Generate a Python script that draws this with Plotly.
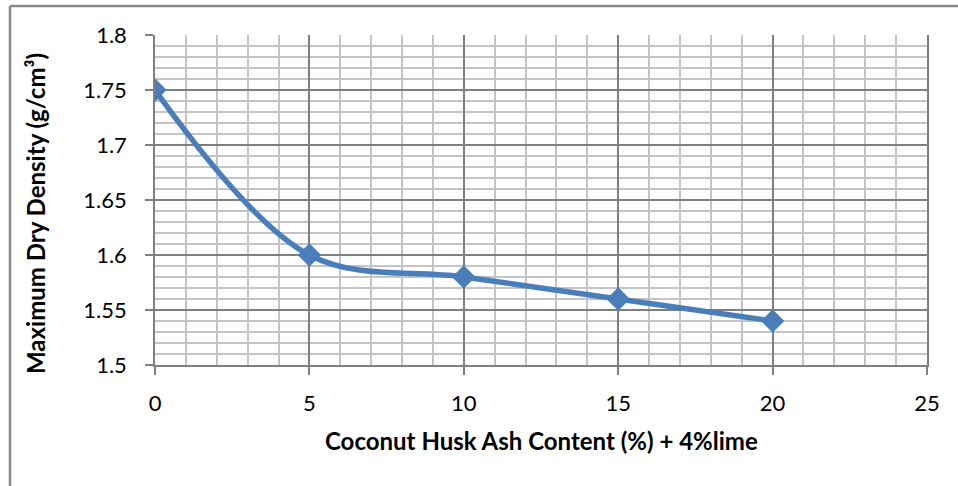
import plotly.graph_objects as go

ash_content = [0, 5, 10, 15, 20]
max_dry_density = [1.75, 1.60, 1.58, 1.56, 1.54]
x_title = "Coconut Husk Ash Content (%) + 4%lime"
y_title = "Maximum Dry Density (g/cm³)"

FONT = "Lato"
BLUE = "#4A7EBB"
MAJOR = "#7F7F7F"
MINOR = "#C4C4C4"

L, R, T, B = 155, 31, 35, 121
PW, PH = 958 - L - R, 486 - T - B


def px(xp):
    return (xp - L) / PW


def py(yp):
    return (486 - B - yp) / PH


fig = go.Figure()
fig.add_trace(go.Scatter(
    x=ash_content, y=max_dry_density,
    mode="lines+markers",
    line=dict(color=BLUE, width=5.5, shape="spline", smoothing=1.0),
    marker=dict(symbol="diamond", size=18, color=BLUE),
    showlegend=False,
))

fig.update_layout(
    width=958, height=486,
    margin=dict(l=L, r=R, t=T, b=B),
    paper_bgcolor="white", plot_bgcolor="white",
    font=dict(family=FONT, size=22, color="black"),
    xaxis=dict(
        range=[0, 25], dtick=5, tick0=0,
        showgrid=True, gridcolor=MAJOR, gridwidth=1.5,
        minor=dict(dtick=1, showgrid=True, gridcolor=MINOR, gridwidth=2),
        ticks="outside", ticklen=8, tickcolor=MAJOR, tickwidth=1.5,
        showline=True, linecolor=MAJOR, linewidth=1.5,
        zeroline=False, automargin=False,
        tickfont=dict(size=22), ticklabelstandoff=10,
    ),
    yaxis=dict(
        range=[1.5, 1.8], dtick=0.05, tick0=1.5,
        showgrid=True, gridcolor=MAJOR, gridwidth=1.5,
        minor=dict(dtick=0.01, showgrid=True, gridcolor=MINOR, gridwidth=2),
        ticks="outside", ticklen=8, tickcolor=MAJOR, tickwidth=1.5,
        showline=True, linecolor=MAJOR, linewidth=1.5, mirror=True,
        zeroline=False, automargin=False,
        tickfont=dict(size=22), ticklabelstandoff=14,
    ),
    annotations=[
        dict(text="<b>" + x_title + "</b>", xref="paper", yref="paper",
             x=0.5, y=py(440), xanchor="center", yanchor="middle",
             showarrow=False, font=dict(size=24)),
        dict(text="<b>" + y_title + "</b>", xref="paper", yref="paper",
             x=px(35), y=py(214), xanchor="center", yanchor="middle",
             textangle=-90, showarrow=False, font=dict(size=24)),
    ],
    shapes=[
        dict(type="line", xref="paper", yref="paper",
             x0=px(10), x1=px(10), y0=py(6), y1=py(490),
             line=dict(color="#888888", width=2.5)),
        dict(type="line", xref="paper", yref="paper",
             x0=px(10), x1=px(962), y0=py(6), y1=py(6),
             line=dict(color="#888888", width=2.5)),
    ],
)

fig.write_html("out.html")
